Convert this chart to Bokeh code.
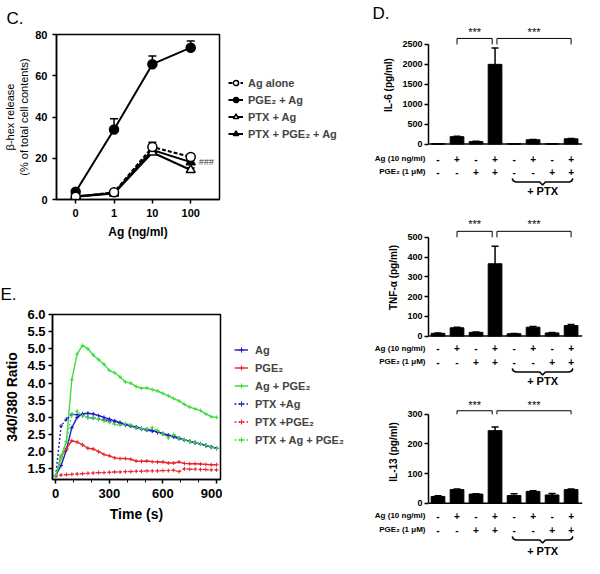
from bokeh.plotting import figure
from bokeh.models import (Legend, LegendItem, Label, FixedTicker, Range1d, NumeralTickFormatter, Span)
from bokeh.layouts import row, column
from bokeh.embed import file_html
from bokeh.resources import INLINE
from bokeh.core.properties import value

FONT = "Liberation Sans"

# ---------------- Panel C data ----------------
c_doses = ["0", "1", "10", "100"]
c_labels = ["Ag alone", "PGE\u2082 + Ag", "PTX + Ag", "PTX + PGE\u2082 + Ag"]
c_ag_alone = [1.3, 3.5, 25.5, 20.6]
c_ag_alone_err = [0.3, 0.6, 2.3, 0.8]
c_pge2_ag = [3.8, 33.9, 65.6, 73.6]
c_pge2_ag_err = [0.6, 5.2, 4.0, 3.3]
c_ptx_ag = [1.3, 2.9, 22.8, 14.3]
c_ptx_ag_err = [0.3, 0.5, 1.3, 1.0]
c_ptx_pge2_ag = [1.6, 3.2, 24.0, 18.1]
c_ptx_pge2_ag_err = [0.3, 0.5, 1.3, 1.0]
c_yticks = [0, 20, 40, 60, 80]

# ---------------- Panel D data ----------------
d_ag_row = ["-", "+", "-", "+", "-", "+", "-", "+"]
d_pge2_row = ["-", "-", "+", "+", "-", "-", "+", "+"]
d_row_labels = ["Ag (10 ng/ml)", "PGE\u2082 (1 \u03bcM)"]
d_ptx_group = [4, 7]
d_sig_pairs = [(1, 3), (3, 7)]
d_il6 = [5, 185, 62, 2000, 5, 108, 5, 132]
d_il6_err = [2, 12, 8, 410, 2, 8, 2, 8]
d_il6_ticks = [0, 500, 1000, 1500, 2000, 2500]
d_tnf = [14, 42, 19, 366, 12, 45, 16, 53]
d_tnf_err = [2, 3, 2, 88, 1, 3, 2, 5]
d_tnf_ticks = [0, 100, 200, 300, 400, 500]
d_il13 = [23, 46, 31, 245, 26, 40, 28, 46]
d_il13_err = [2, 2, 1, 12, 6, 2, 5, 2]
d_il13_ticks = [0, 100, 200, 300]

# ---------------- Panel E data ----------------
e_time = [0, 30, 60, 90, 120, 150, 180, 210, 240, 270, 300, 330, 360, 390, 420,
          450, 480, 510, 540, 570, 600, 630, 660, 690, 720, 750, 780, 810, 840, 870, 900]
e_ag = [1.3, 1.6, 2.05, 2.7, 3.0, 3.1, 3.12, 3.1, 3.05, 3.0, 2.95, 2.9, 2.85, 2.8, 2.75,
        2.72, 2.68, 2.65, 2.62, 2.58, 2.53, 2.48, 2.45, 2.4, 2.35, 2.3, 2.27, 2.23, 2.18, 2.14, 2.1]
e_pge2 = [1.3, 1.85, 2.1, 2.32, 2.28, 2.2, 2.1, 2.08, 2.0, 1.92, 1.88, 1.82, 1.8, 1.8, 1.78,
          1.73, 1.72, 1.73, 1.71, 1.7, 1.7, 1.67, 1.67, 1.7, 1.66, 1.65, 1.65, 1.64, 1.63, 1.62, 1.62]
e_ag_pge2 = [1.3, 1.8, 2.3, 4.1, 4.85, 5.1, 5.0, 4.82, 4.68, 4.55, 4.37, 4.3, 4.18, 4.03, 4.0,
             3.9, 3.85, 3.86, 3.81, 3.77, 3.7, 3.63, 3.55, 3.48, 3.38, 3.3, 3.25, 3.2, 3.1, 3.02, 3.0]
e_ptx_ag = [1.3, 2.75, 2.95, 3.08, 3.08, 3.05, 3.0, 2.98, 2.95, 2.93, 2.9, 2.87, 2.84, 2.78, 2.75,
            2.7, 2.66, 2.63, 2.6, 2.56, 2.52, 2.47, 2.43, 2.38, 2.34, 2.3, 2.26, 2.22, 2.18, 2.13, 2.1]
e_ptx_pge2 = [1.3, 1.32, 1.33, 1.34, 1.35, 1.36, 1.37, 1.38, 1.39, 1.39, 1.4, 1.41, 1.41, 1.42, 1.42,
              1.43, 1.43, 1.44, 1.44, 1.44, 1.45, 1.45, 1.46, 1.42, 1.5, 1.49, 1.49, 1.48, 1.48, 1.47, 1.47]
e_ptx_ag_pge2 = [1.3, 1.9, 2.3, 3.1, 3.18, 3.05, 3.0, 2.98, 2.95, 2.9, 2.85, 2.8, 2.77, 2.82, 2.78,
                 2.7, 2.68, 2.66, 2.7, 2.62, 2.52, 2.4, 2.5, 2.4, 2.35, 2.3, 2.26, 2.22, 2.18, 2.13, 2.1]
e_labels = ["Ag", "PGE\u2082", "Ag + PGE\u2082", "PTX +Ag", "PTX +PGE\u2082", "PTX + Ag + PGE\u2082"]
e_yticks = [1.5, 2.0, 2.5, 3.0, 3.5, 4.0, 4.5, 5.0, 5.5, 6.0]
e_xticks = [0, 300, 600, 900]
e_xminor = [100, 200, 400, 500, 700, 800]

BLUE = "#1c1cc4"
RED = "#e8262c"
GREEN = "#3fdc3f"


def make_fig(w, h, left, right, top, bottom, xr, yr, outline=True, xaxis=True, yaxis=True):
    kw = {}
    if not xaxis:
        kw["x_axis_location"] = None
    if not yaxis:
        kw["y_axis_location"] = None
    p = figure(width=w, height=h, min_border_left=left, min_border_right=right,
               min_border_top=top, min_border_bottom=bottom, x_range=xr, y_range=yr,
               output_backend="svg", toolbar_location=None, **kw)
    p.xgrid.visible = False
    p.ygrid.visible = False
    p.outline_line_color = "black" if outline else None
    p.outline_line_width = 1.5
    p.background_fill_color = "white"
    p.border_fill_color = "white"
    return p


def style_axis(ax, size, label_size, label_style="bold"):
    ax.axis_line_color = "black"
    ax.axis_line_width = 1.5
    ax.major_tick_line_color = "black"
    ax.major_tick_line_width = 1.5
    ax.major_tick_in = 0
    ax.major_tick_out = 4
    ax.minor_tick_line_color = None
    ax.minor_tick_in = 0
    ax.minor_tick_out = 0
    ax.major_label_text_font = FONT
    ax.major_label_text_font_size = f"{size}px"
    ax.major_label_text_font_style = "bold"
    ax.major_label_text_color = "black"
    ax.axis_label_text_font = FONT
    ax.axis_label_text_font_size = f"{label_size}px"
    ax.axis_label_text_font_style = label_style
    ax.axis_label_text_color = "black"


def panel_title(p, text, offset, standoff):
    p.title.text = text
    p.title.align = "left"
    p.title.offset = offset
    p.title.standoff = standoff
    p.title.text_font = FONT
    p.title.text_font_size = "17px"
    p.title.text_font_style = "normal"
    p.title.text_color = "black"


def legend_fig(w, h, labels, xs, series, styles, loc, spacing, standoff, gw):
    """Strip holding the legend. The series are drawn again here, outside its visible
    range, so that the legend shows each series' own line and marker."""
    f = make_fig(w, h, 0, 0, 0, 0, Range1d(-20, -10), Range1d(-20, -10), outline=False,
                 xaxis=False, yaxis=False)
    items = []
    for lab, vals, (lkw, skw) in zip(labels, series, styles):
        rs = [f.line(xs, vals, **lkw), f.scatter(xs, vals, **skw)]
        items.append(LegendItem(label=lab, renderers=rs))
    leg = Legend(items=items, location=loc)
    leg.label_text_font = FONT
    leg.label_text_font_size = "11px"
    leg.label_text_font_style = "bold"
    leg.glyph_width = gw
    leg.glyph_height = 13
    leg.label_height = 13
    leg.spacing = spacing
    leg.padding = 0
    leg.margin = 0
    leg.label_standoff = standoff
    leg.border_line_color = None
    leg.background_fill_alpha = 0
    f.add_layout(leg)
    return f


# ================= Panel C =================
LW = 366
CH = 269
c_fw, c_fh = 169, 165
C_TOP = 34
CMW = 50 + c_fw + 2
pC = make_fig(CMW, CH, 50, 2, C_TOP, CH - C_TOP - c_fh, Range1d(-0.5, 3.75), Range1d(0, 80))
style_axis(pC.xaxis[0], 11, 12)
style_axis(pC.yaxis[0], 11, 11, "normal")
pC.xaxis.ticker = FixedTicker(ticks=list(range(len(c_doses))))
pC.xaxis.major_label_overrides = {i: d for i, d in enumerate(c_doses)}
pC.xaxis.axis_label = "Ag (ng/ml)"
pC.yaxis.ticker = FixedTicker(ticks=c_yticks)
pC.yaxis.axis_label = "\u03b2-hex release\n(% of total cell contents)"
pC.yaxis.axis_label_standoff = 2
panel_title(pC, "C.", -50, 13)

xs_c = list(range(len(c_doses)))


def c_style(marker, fill, dash):
    return (dict(line_color="black", line_width=2, line_dash=dash),
            dict(marker=marker, size=9, fill_color=fill, line_color="black", line_width=1.5))


c_styles = {"ag": c_style("circle", "white", "4 2"),
            "pge2": c_style("circle", "black", "solid"),
            "ptx": c_style("triangle", "white", "solid"),
            "ptxpge2": c_style("triangle", "black", "solid")}


def c_err(vals, errs):
    up = [v + e for v, e in zip(vals, errs)]
    pC.segment(x0=xs_c, y0=vals, x1=xs_c, y1=up, line_color="black", line_width=1.5)
    pC.scatter(x=xs_c, y=up, marker="dash", size=8, line_color="black", line_width=1.5)


def c_line(vals, key):
    lkw, skw = c_styles[key]
    pC.line(xs_c, vals, **lkw)
    pC.scatter(xs_c, vals, **skw)


c_err(c_pge2_ag, c_pge2_ag_err)
c_err(c_ag_alone, c_ag_alone_err)
c_err(c_ptx_ag, c_ptx_ag_err)
c_err(c_ptx_pge2_ag, c_ptx_pge2_ag_err)
c_line(c_pge2_ag, "pge2")
c_line(c_ptx_pge2_ag, "ptxpge2")
c_line(c_ptx_ag, "ptx")
c_line(c_ag_alone, "ag")

pC.add_layout(Label(x=3, y=c_ptx_pge2_ag[3], x_offset=8, text="###", text_font=FONT,
                    text_font_size="9px", text_font_style="italic", text_baseline="middle",
                    text_color="#333333"))

legC = legend_fig(LW - CMW, CH, c_labels, xs_c,
                  [c_ag_alone, c_pge2_ag, c_ptx_ag, c_ptx_pge2_ag],
                  [c_styles[k] for k in ["ag", "pge2", "ptx", "ptxpge2"]],
                  (7, 59), 4, 5, 15)

# ================= Panel E =================
EH = 558 - CH
e_fw, e_fh = 168, 165
EMW = 52 + e_fw + 2
pE = make_fig(EMW, EH, 52, 2, 45, EH - 45 - e_fh, Range1d(-18, 922), Range1d(1.19, 6.0))
style_axis(pE.xaxis[0], 13, 14)
style_axis(pE.yaxis[0], 13, 14)
pE.xaxis.ticker = FixedTicker(ticks=e_xticks, minor_ticks=e_xminor)
pE.xaxis.minor_tick_line_color = "black"
pE.xaxis.minor_tick_out = 3
pE.xaxis.axis_label = "Time (s)"
pE.yaxis.ticker = FixedTicker(ticks=e_yticks)
pE.yaxis.formatter = NumeralTickFormatter(format="0.0")
pE.yaxis.axis_label = "340/380 Ratio"
pE.yaxis.axis_label_standoff = 4
pE.yaxis.major_label_standoff = 3
panel_title(pE, "E.", -52, 22)


def e_style(color, dash):
    return (dict(line_color=color, line_width=1.4, line_dash=dash),
            dict(marker="cross", size=4, line_color=color, line_width=1))


e_series = [(e_ag, BLUE, "solid"), (e_pge2, RED, "solid"), (e_ag_pge2, GREEN, "solid"),
            (e_ptx_ag, BLUE, "2 2"), (e_ptx_pge2, RED, "2 2"), (e_ptx_ag_pge2, GREEN, "2 2")]
e_styles = []
for vals, color, dash in e_series:
    lkw, skw = e_style(color, dash)
    e_styles.append((lkw, skw))
    pE.line(e_time, vals, **lkw)
    pE.scatter(e_time, vals, **skw)

legE = legend_fig(LW - EMW, EH, e_labels, e_time, [s[0] for s in e_series], e_styles,
                  (12, 33), 5, 7, 14)

# ================= Panel D =================
DW = 584 - LW
DL, DR = 62, 2
XR = (-0.5, 7.6)
B = 6


def d_panel(vals, errs, ylabel, yticks, ytop, brk, star_y, top, frame_h, strip_h,
            rows_y, brace_top, ptx_y, title=None):
    p = make_fig(DW, top + frame_h + B, DL, DR, top, B, Range1d(*XR),
                 Range1d(-ytop * 0.012, ytop), outline=False, xaxis=False)
    style_axis(p.yaxis[0], 9, 10)
    p.yaxis.ticker = FixedTicker(ticks=yticks)
    p.yaxis.bounds = (0, yticks[-1])
    p.yaxis.axis_label = ylabel
    p.yaxis.axis_label_standoff = 5
    p.yaxis.major_label_standoff = 2
    p.add_layout(Span(location=0, dimension="width", line_color="black", line_width=1.5))
    if title:
        panel_title(p, title, -56, 3)
    xs = list(range(len(vals)))
    p.vbar(x=xs, top=vals, width=0.72, fill_color="black", line_color="black")
    up = [v + e for v, e in zip(vals, errs)]
    p.segment(x0=xs, y0=vals, x1=xs, y1=up, line_color="black", line_width=1.5)
    p.scatter(x=xs, y=up, marker="dash", size=7, line_color="black", line_width=1.5)
    drop = yticks[-1]
    bx = []
    for a, b in d_sig_pairs:
        x0 = a if a != 3 else a + 0.1
        x1 = b if b != 3 else b - 0.15
        bx.append((x0, x1))
    p.multi_line(xs=[[x0, x0, x1, x1] for x0, x1 in bx],
                 ys=[[drop, brk, brk, drop] for _ in bx], line_color="black", line_width=1)
    p.text(x=[(x0 + x1) / 2 for x0, x1 in bx], y=[star_y] * len(bx), text=["***"] * len(bx),
           text_align="center", text_baseline="middle", text_font=value(FONT),
           text_font_size="11px", text_color="black")

    # strip below the axis: treatment table (row names on its own y axis), brace, "+ PTX"
    s = make_fig(DW, strip_h, DL, DR, 0, 0, Range1d(*XR), Range1d(-(B + strip_h), -B),
                 outline=False, xaxis=False)
    ya = s.yaxis[0]
    style_axis(ya, 8, 8)
    ya.axis_line_color = None
    ya.major_tick_line_color = None
    ya.major_tick_out = 0
    ya.major_label_standoff = 3
    ya.ticker = FixedTicker(ticks=list(rows_y))
    ya.major_label_overrides = {rows_y[i]: d_row_labels[i] for i in range(2)}
    for r, signs in enumerate([d_ag_row, d_pge2_row]):
        s.text(x=xs, y=[rows_y[r]] * len(xs), text=signs, text_align="center",
               text_baseline="middle", text_font=value(FONT), text_font_size="10px",
               text_font_style="bold", text_color="black")
    a0, a1 = d_ptx_group[0] - 0.1, d_ptx_group[1] + 0.1
    m = (a0 + a1) / 2
    t = brace_top
    bxs = [a0, a0 + 0.07, a0 + 0.2, m - 0.15, m, m + 0.15, a1 - 0.2, a1 - 0.07, a1]
    bys = [t, t - 2.5, t - 3.5, t - 3.5, t - 6.5, t - 3.5, t - 3.5, t - 2.5, t]
    s.line(bxs, bys, line_color="black", line_width=1.6)
    s.text(x=[m], y=[ptx_y], text=["+ PTX"], text_align="center", text_baseline="middle",
           text_font=value(FONT), text_font_size="11px", text_font_style="bold",
           text_color="black")
    return column(p, s)


# heights: D1 24+121+6+44 = 195, D2 22+120+6+44 = 192, D3 12+105+6+48 = 171
pD1 = d_panel(d_il6, d_il6_err, "IL-6 (pg/ml)", d_il6_ticks, 3000, 2650, 2800,
              24, 121, 44, (-13, -26), -33, -45, title="D.")
pD2 = d_panel(d_tnf, d_tnf_err, "TNF-\u03b1 (pg/ml)", d_tnf_ticks, 600, 530, 565,
              22, 120, 44, (-10, -24), -31, -43)
pD3 = d_panel(d_il13, d_il13_err, "IL-13 (pg/ml)", d_il13_ticks, 350, 312, 330,
              12, 105, 48, (-11, -25), -32, -46)

layout = row(column(row(pC, legC), row(pE, legE)), column(pD1, pD2, pD3))
open("out.html", "w").write(file_html(layout, INLINE))
